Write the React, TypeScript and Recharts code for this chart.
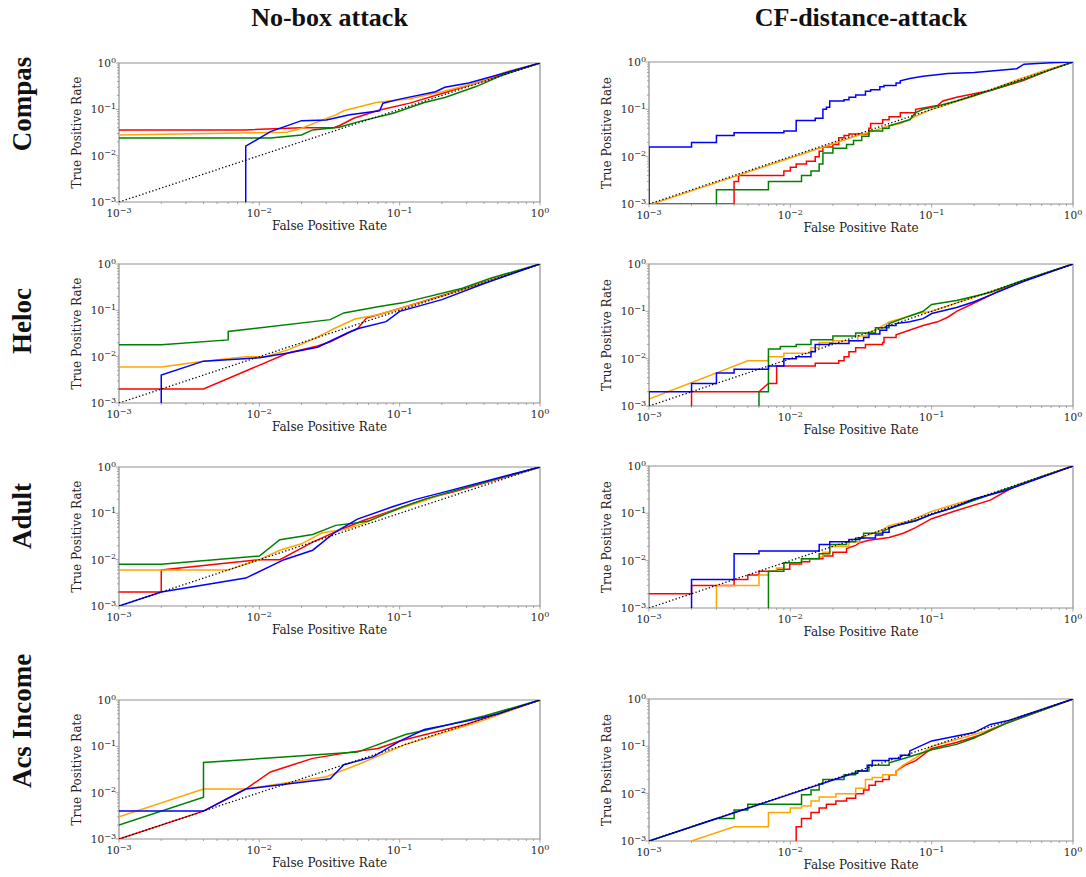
import { LineChart, Line, XAxis, YAxis, ReferenceArea } from "recharts";

type Pt = [number, number];
type Panel = { red: Pt[]; orange: Pt[]; green: Pt[]; blue: Pt[] };

// ROC corners that rise in steps: horizontal to the next fpr, then up
const stair = (pts: Pt[]): Pt[] =>
  pts.flatMap((p, i) => (i === 0 ? [p] : [[p[0], pts[i - 1][1]] as Pt, p]));

const ROW_NAMES = ["Compas", "Heloc", "Adult", "Acs Income"];
const COL_NAMES = ["No-box attack", "CF-distance-attack"];

const MAJOR_TICKS = [0.001, 0.01, 0.1, 1];
const TICKS = [
  0.001, 0.002, 0.003, 0.004, 0.005, 0.006, 0.007, 0.008, 0.009,
  0.01, 0.02, 0.03, 0.04, 0.05, 0.06, 0.07, 0.08, 0.09,
  0.1, 0.2, 0.3, 0.4, 0.5, 0.6, 0.7, 0.8, 0.9, 1,
];
const TICK_EXP = ["−3", "−2", "−1", "0"];
const CHANCE: Pt[] = [[0.001, 0.001], [1, 1]];

const compasNoBox: Panel = {
  red: [[0.001, 0.036], [0.008, 0.036], [0.02, 0.04], [0.034, 0.04], [0.038, 0.046], [0.047, 0.064], [0.072, 0.097], [0.118, 0.136], [0.2, 0.22], [0.35, 0.37], [1, 1]],
  orange: [[0.001, 0.028], [0.0157, 0.032], [0.02, 0.039], [0.035, 0.076], [0.04, 0.093], [0.068, 0.14], [0.118, 0.17], [0.2, 0.24], [0.35, 0.37], [0.57, 0.64], [1, 1]],
  green: [[0.001, 0.024], [0.012, 0.024], [0.02, 0.028], [0.024, 0.036], [0.037, 0.041], [0.052, 0.055], [0.09, 0.082], [0.15, 0.14], [0.21, 0.18], [0.35, 0.31], [0.55, 0.56], [1, 1]],
  blue: [[0.008, 0.001], [0.008, 0.016], [0.012, 0.033], [0.02, 0.057], [0.03, 0.059], [0.044, 0.076], [0.072, 0.093], [0.076, 0.136], [0.1, 0.166], [0.18, 0.24], [0.21, 0.3], [0.31, 0.37], [1, 1]],
};

const compasCf: Panel = {
  red: [
    ...stair([[0.001, 0.001], [0.004, 0.003], [0.0043, 0.004], [0.009, 0.005], [0.01, 0.006], [0.011, 0.007], [0.013, 0.008], [0.015, 0.01], [0.016, 0.013], [0.017, 0.016], [0.02, 0.018], [0.022, 0.025], [0.024, 0.028], [0.026, 0.03], [0.036, 0.04], [0.037, 0.05], [0.045, 0.06], [0.05, 0.07], [0.06, 0.085], [0.077, 0.1]]),
    [0.11, 0.12], [0.12, 0.15], [0.15, 0.18], [0.26, 0.25], [0.44, 0.4], [0.7, 0.7], [1, 1],
  ],
  orange: [[0.001, 0.00095], [0.03, 0.028], [0.04, 0.036], [0.05, 0.045], [0.06, 0.05], [0.08, 0.075], [0.1, 0.1], [0.2, 0.19], [0.4, 0.42], [0.6, 0.63], [1, 1]],
  green: [
    ...stair([[0.003, 0.001], [0.003, 0.002], [0.007, 0.003], [0.012, 0.004], [0.014, 0.005], [0.016, 0.007], [0.017, 0.012], [0.02, 0.015], [0.025, 0.018], [0.028, 0.022], [0.032, 0.027], [0.036, 0.035], [0.045, 0.04], [0.05, 0.045]]),
    [0.07, 0.06], [0.077, 0.085], [0.087, 0.1], [0.1, 0.11], [0.15, 0.15], [0.26, 0.25], [0.44, 0.42], [0.76, 0.75], [1, 1],
  ],
  blue: [
    ...stair([[0.001, 0.001], [0.001, 0.016], [0.002, 0.02], [0.003, 0.028], [0.004, 0.032], [0.009, 0.035], [0.011, 0.058], [0.015, 0.065], [0.017, 0.1], [0.018, 0.11], [0.019, 0.15], [0.024, 0.16], [0.026, 0.18], [0.029, 0.2], [0.034, 0.24], [0.037, 0.26], [0.043, 0.3], [0.046, 0.32], [0.056, 0.36], [0.06, 0.4]]),
    [0.07, 0.45], [0.087, 0.5], [0.13, 0.57], [0.2, 0.6], [0.4, 0.72], [0.45, 0.9], [0.7, 0.96], [1, 1],
  ],
};

const helocNoBox: Panel = {
  red: [[0.001, 0.002], [0.004, 0.002], [0.016, 0.012], [0.026, 0.017], [0.032, 0.021], [0.045, 0.035], [0.05, 0.04], [0.058, 0.068], [0.08, 0.09], [0.1, 0.11], [0.3, 0.3], [1, 1]],
  orange: [[0.001, 0.006], [0.002, 0.006], [0.004, 0.008], [0.008, 0.01], [0.011, 0.01], [0.016, 0.014], [0.025, 0.025], [0.034, 0.04], [0.048, 0.065], [0.07, 0.08], [0.1, 0.11], [0.2, 0.2], [1, 1]],
  green: [[0.001, 0.018], [0.002, 0.018], [0.006, 0.023], [0.006, 0.035], [0.032, 0.063], [0.04, 0.088], [0.07, 0.12], [0.105, 0.145], [0.28, 0.3], [0.45, 0.5], [1, 1]],
  blue: [[0.002, 0.001], [0.002, 0.004], [0.004, 0.008], [0.01, 0.0095], [0.016, 0.012], [0.026, 0.016], [0.042, 0.032], [0.05, 0.04], [0.08, 0.057], [0.1, 0.095], [0.2, 0.17], [0.4, 0.38], [1, 1]],
};

const helocCf: Panel = {
  red: [
    ...stair([[0.002, 0.001], [0.002, 0.002], [0.006, 0.002]]),
    ...stair([[0.007, 0.003], [0.008, 0.007], [0.015, 0.008], [0.022, 0.009], [0.024, 0.011], [0.026, 0.014], [0.029, 0.017], [0.034, 0.02], [0.045, 0.022], [0.046, 0.028], [0.056, 0.032]]),
    [0.087, 0.05], [0.11, 0.06], [0.13, 0.075], [0.15, 0.1], [0.2, 0.15], [0.3, 0.27], [0.5, 0.5], [1, 1],
  ],
  orange: [
    [0.001, 0.0014],
    ...stair([[0.005, 0.009], [0.007, 0.011], [0.009, 0.013], [0.014, 0.017], [0.016, 0.022], [0.02, 0.024], [0.03, 0.03], [0.035, 0.035]]),
    [0.04, 0.04], [0.05, 0.06], [0.06, 0.07], [0.08, 0.09], [0.1, 0.1], [0.2, 0.2], [0.3, 0.3], [1, 1],
  ],
  green: [
    ...stair([[0.006, 0.001], [0.006, 0.002], [0.007, 0.016], [0.0085, 0.018], [0.011, 0.02], [0.014, 0.025], [0.02, 0.03], [0.029, 0.035], [0.04, 0.045], [0.05, 0.055]]),
    [0.07, 0.08], [0.087, 0.1], [0.1, 0.14], [0.15, 0.17], [0.26, 0.25], [0.44, 0.45], [1, 1],
  ],
  blue: [
    ...stair([[0.001, 0.001], [0.001, 0.002], [0.002, 0.003], [0.003, 0.005], [0.004, 0.006], [0.007, 0.007], [0.009, 0.01], [0.011, 0.011], [0.014, 0.014], [0.015, 0.02], [0.019, 0.021], [0.026, 0.024], [0.033, 0.028], [0.036, 0.033], [0.043, 0.04], [0.048, 0.05], [0.056, 0.055]]),
    [0.07, 0.06], [0.087, 0.07], [0.1, 0.09], [0.15, 0.12], [0.2, 0.16], [0.26, 0.22], [0.44, 0.42], [1, 1],
  ],
};

const adultNoBox: Panel = {
  red: [[0.001, 0.002], [0.002, 0.002], [0.002, 0.006], [0.01, 0.01], [0.014, 0.01], [0.024, 0.024], [0.035, 0.04], [0.055, 0.07], [0.1, 0.13], [0.15, 0.2], [0.25, 0.3], [1, 1]],
  orange: [[0.001, 0.006], [0.006, 0.006], [0.01, 0.01], [0.014, 0.016], [0.02, 0.022], [0.028, 0.038], [0.04, 0.045], [0.055, 0.06], [0.08, 0.1], [0.16, 0.2], [0.22, 0.28], [1, 1]],
  green: [[0.001, 0.008], [0.002, 0.008], [0.01, 0.012], [0.014, 0.027], [0.024, 0.035], [0.035, 0.055], [0.05, 0.063], [0.06, 0.068], [0.1, 0.13], [0.15, 0.2], [0.22, 0.28], [1, 1]],
  blue: [[0.001, 0.001], [0.002, 0.002], [0.008, 0.004], [0.015, 0.01], [0.024, 0.016], [0.035, 0.04], [0.05, 0.075], [0.09, 0.14], [0.13, 0.2], [0.2, 0.28], [1, 1]],
};

const adultCf: Panel = {
  red: [
    ...stair([[0.001, 0.002], [0.002, 0.003], [0.004, 0.004], [0.005, 0.005], [0.006, 0.006], [0.008, 0.0066], [0.0099, 0.0085], [0.012, 0.0095], [0.0137, 0.011], [0.017, 0.0125], [0.02, 0.015], [0.025, 0.018]]),
    [0.029, 0.021], [0.031, 0.024], [0.036, 0.027], [0.05, 0.031], [0.063, 0.038], [0.077, 0.05], [0.1, 0.077], [0.15, 0.115], [0.26, 0.19], [0.36, 0.33], [0.58, 0.58], [1, 1],
  ],
  orange: [
    ...stair([[0.003, 0.001], [0.003, 0.003], [0.006, 0.005], [0.007, 0.006], [0.008, 0.007], [0.009, 0.009], [0.012, 0.011], [0.016, 0.012], [0.017, 0.015], [0.019, 0.02], [0.026, 0.025], [0.031, 0.03]]),
    [0.045, 0.045], [0.05, 0.055], [0.07, 0.07], [0.1, 0.11], [0.15, 0.16], [0.26, 0.25], [1, 1],
  ],
  green: [
    ...stair([[0.007, 0.001], [0.007, 0.006], [0.009, 0.009], [0.012, 0.011], [0.016, 0.014], [0.019, 0.022], [0.025, 0.025], [0.029, 0.03], [0.033, 0.038], [0.045, 0.042]]),
    [0.056, 0.055], [0.077, 0.07], [0.1, 0.095], [0.15, 0.14], [0.26, 0.25], [1, 1],
  ],
  blue: [
    ...stair([[0.002, 0.001], [0.002, 0.004], [0.004, 0.014], [0.006, 0.016], [0.016, 0.022], [0.019, 0.025], [0.026, 0.028], [0.031, 0.03], [0.04, 0.035], [0.045, 0.04], [0.05, 0.05]]),
    [0.063, 0.06], [0.077, 0.07], [0.1, 0.095], [0.14, 0.13], [0.2, 0.2], [0.33, 0.3], [1, 1],
  ],
};

const acsNoBox: Panel = {
  red: [[0.001, 0.001], [0.004, 0.004], [0.008, 0.012], [0.012, 0.028], [0.024, 0.055], [0.045, 0.075], [0.07, 0.09], [0.1, 0.13], [0.3, 0.3], [1, 1]],
  orange: [[0.001, 0.003], [0.004, 0.012], [0.008, 0.012], [0.03, 0.022], [0.05, 0.04], [0.11, 0.11], [0.38, 0.35], [1, 1]],
  green: [[0.001, 0.002], [0.004, 0.008], [0.004, 0.045], [0.05, 0.075], [0.11, 0.18], [0.15, 0.22], [0.4, 0.45], [1, 1]],
  blue: [[0.001, 0.004], [0.004, 0.004], [0.008, 0.012], [0.012, 0.014], [0.032, 0.02], [0.04, 0.04], [0.065, 0.06], [0.1, 0.13], [0.15, 0.23], [0.3, 0.35], [0.5, 0.5], [1, 1]],
};

const acsCf: Panel = {
  red: [
    ...stair([[0.011, 0.001], [0.011, 0.002], [0.012, 0.003], [0.014, 0.004], [0.016, 0.005], [0.018, 0.006], [0.021, 0.007], [0.025, 0.008], [0.029, 0.01], [0.033, 0.012], [0.036, 0.015], [0.04, 0.018], [0.045, 0.02], [0.05, 0.025], [0.056, 0.03]]),
    [0.065, 0.04], [0.077, 0.05], [0.1, 0.09], [0.15, 0.12], [0.23, 0.18], [0.33, 0.3], [1, 1],
  ],
  orange: [
    [0.002, 0.001],
    ...stair([[0.004, 0.002], [0.007, 0.004], [0.01, 0.005], [0.012, 0.0055], [0.014, 0.007], [0.016, 0.0085], [0.021, 0.01], [0.029, 0.013], [0.034, 0.02], [0.038, 0.022], [0.045, 0.025], [0.056, 0.03]]),
    [0.063, 0.04], [0.077, 0.057], [0.1, 0.1], [0.15, 0.14], [0.23, 0.2], [0.33, 0.3], [1, 1],
  ],
  green: [
    [0.001, 0.001],
    ...stair([[0.003, 0.003], [0.004, 0.0045], [0.005, 0.006], [0.012, 0.0095], [0.014, 0.012], [0.016, 0.016], [0.017, 0.02], [0.024, 0.025], [0.029, 0.03], [0.036, 0.04], [0.05, 0.045]]),
    [0.07, 0.06], [0.1, 0.085], [0.15, 0.11], [0.2, 0.15], [0.26, 0.22], [0.33, 0.3], [1, 1],
  ],
  blue: [
    [0.001, 0.001],
    ...stair([[0.028, 0.027], [0.03, 0.03], [0.035, 0.04], [0.038, 0.05], [0.05, 0.055], [0.06, 0.065], [0.07, 0.08]]),
    [0.1, 0.13], [0.15, 0.165], [0.2, 0.195], [0.26, 0.29], [0.35, 0.35], [1, 1],
  ],
};

const PANELS: Panel[][] = [
  [compasNoBox, compasCf],
  [helocNoBox, helocCf],
  [adultNoBox, adultCf],
  [acsNoBox, acsCf],
];

const SERIES_ORDER: (keyof Panel)[] = ["red", "orange", "green", "blue"];
const COLORS: Record<keyof Panel, string> = {
  red: "#ff0000",
  orange: "#ffa500",
  green: "#008000",
  blue: "#0000ff",
};

// layout
const Y_W = 60;
const X_H = 40;
const M_TOP = 10;
const M_RIGHT = 12;
const COL_LEFT = [119, 649];
const COL_W = [421, 424];
const ROW_TOP = [
  [63, 62],
  [264, 264],
  [467, 466],
  [700, 699],
];
const COL_H = [139, 142];
const ROW_LABEL_Y = [104, 321, 516, 721];

const SERIF = "'DejaVu Serif', serif";
const TITLE_FONT = "'Liberation Serif', 'Times New Roman', serif";
const FRAME = "#8f8f8f";

const toRows = (pts: Pt[]) => pts.map(([x, y]) => ({ x, y }));

const TickText = ({ x, y, value, anchor }: { x: number; y: number; value: number; anchor: "middle" | "end" }) => (
  <text x={x} y={y} textAnchor={anchor} fontSize={10.5} fontFamily={SERIF} fill="#222">
    <tspan>10</tspan>
    <tspan dy={-4.5} fontSize={8}>
      {TICK_EXP[MAJOR_TICKS.indexOf(value)]}
    </tspan>
  </text>
);

const XTick = (props: any) => {
  const { x, y, payload } = props;
  const major = MAJOR_TICKS.includes(payload.value);
  return (
    <g>
      <line x1={x} x2={x} y1={y} y2={y + (major ? 3.5 : 2)} stroke={FRAME} strokeWidth={0.8} />
      {major && <TickText x={x} y={y + 15} value={payload.value} anchor="middle" />}
    </g>
  );
};

const YTick = (props: any) => {
  const { x, y, payload } = props;
  const major = MAJOR_TICKS.includes(payload.value);
  return (
    <g>
      <line x1={x - (major ? 3.5 : 2)} x2={x} y1={y} y2={y} stroke={FRAME} strokeWidth={0.8} />
      {major && <TickText x={x - 3} y={y + 4} value={payload.value} anchor="end" />}
    </g>
  );
};

function RocPanel({ data, left, top, plotW, plotH }: { data: Panel; left: number; top: number; plotW: number; plotH: number }) {
  return (
    <div style={{ position: "absolute", left: left - Y_W, top: top - M_TOP }}>
      <LineChart
        width={Y_W + plotW + M_RIGHT}
        height={M_TOP + plotH + X_H}
        margin={{ top: M_TOP, right: M_RIGHT, bottom: 0, left: 0 }}
      >
        <XAxis
          dataKey="x"
          type="number"
          scale="log"
          domain={[0.001, 1]}
          allowDataOverflow
          ticks={TICKS}
          interval={0}
          height={X_H}
          tickSize={0}
          tickMargin={0}
          tickLine={false}
          axisLine={false}
          tick={XTick}
        />
        <YAxis
          type="number"
          scale="log"
          domain={[0.001, 1]}
          allowDataOverflow
          ticks={TICKS}
          interval={0}
          width={Y_W}
          tickSize={0}
          tickMargin={0}
          tickLine={false}
          axisLine={false}
          tick={YTick}
        />
        <ReferenceArea x1={0.001} x2={1} y1={0.001} y2={1} fill="none" stroke={FRAME} strokeWidth={1.2} />
        {SERIES_ORDER.map((key) => (
          <Line
            key={key}
            data={toRows(data[key])}
            dataKey="y"
            type="linear"
            stroke={COLORS[key]}
            strokeWidth={1.5}
            dot={false}
            activeDot={false}
            isAnimationActive={false}
          />
        ))}
        <Line
          data={toRows(CHANCE)}
          dataKey="y"
          type="linear"
          stroke="#000"
          strokeWidth={1.3}
          strokeDasharray="1.3 2.2"
          dot={false}
          activeDot={false}
          isAnimationActive={false}
        />
      </LineChart>
    </div>
  );
}

export default function App() {
  return (
    <div style={{ position: "absolute", left: 0, top: 0, width: 1086, height: 877, background: "#fff", overflow: "hidden" }}>
      <svg width={1086} height={877} style={{ position: "absolute", left: 0, top: 0 }}>
        {COL_NAMES.map((name, c) => (
          <text key={name} x={COL_LEFT[c] + COL_W[c] / 2} y={26} textAnchor="middle" fontSize={26} fontWeight="bold" fontFamily={TITLE_FONT} fill="#111">
            {name}
          </text>
        ))}
        {ROW_NAMES.map((name, r) => (
          <text
            key={name}
            x={22}
            y={ROW_LABEL_Y[r]}
            transform={`rotate(-90 22 ${ROW_LABEL_Y[r]})`}
            textAnchor="middle"
            dominantBaseline="central"
            fontSize={27}
            fontWeight="bold"
            fontFamily={TITLE_FONT}
            fill="#111"
          >
            {name}
          </text>
        ))}
        {ROW_TOP.map((tops, r) =>
          tops.map((t, c) => {
            const cx = COL_LEFT[c] + COL_W[c] / 2;
            const lx = COL_LEFT[c] - 42;
            const cy = t + COL_H[c] / 2;
            return (
              <g key={`${r}-${c}`}>
                <text x={cx} y={t + COL_H[c] + 28} textAnchor="middle" fontSize={12} fontFamily={SERIF} fill="#222">
                  False Positive Rate
                </text>
                <text
                  x={lx}
                  y={cy}
                  transform={`rotate(-90 ${lx} ${cy})`}
                  textAnchor="middle"
                  dominantBaseline="central"
                  fontSize={12}
                  fontFamily={SERIF}
                  fill="#222"
                >
                  True Positive Rate
                </text>
              </g>
            );
          })
        )}
      </svg>
      {PANELS.map((row, r) =>
        row.map((data, c) => (
          <RocPanel key={`${r}-${c}`} data={data} left={COL_LEFT[c]} top={ROW_TOP[r][c]} plotW={COL_W[c]} plotH={COL_H[c]} />
        ))
      )}
    </div>
  );
}
